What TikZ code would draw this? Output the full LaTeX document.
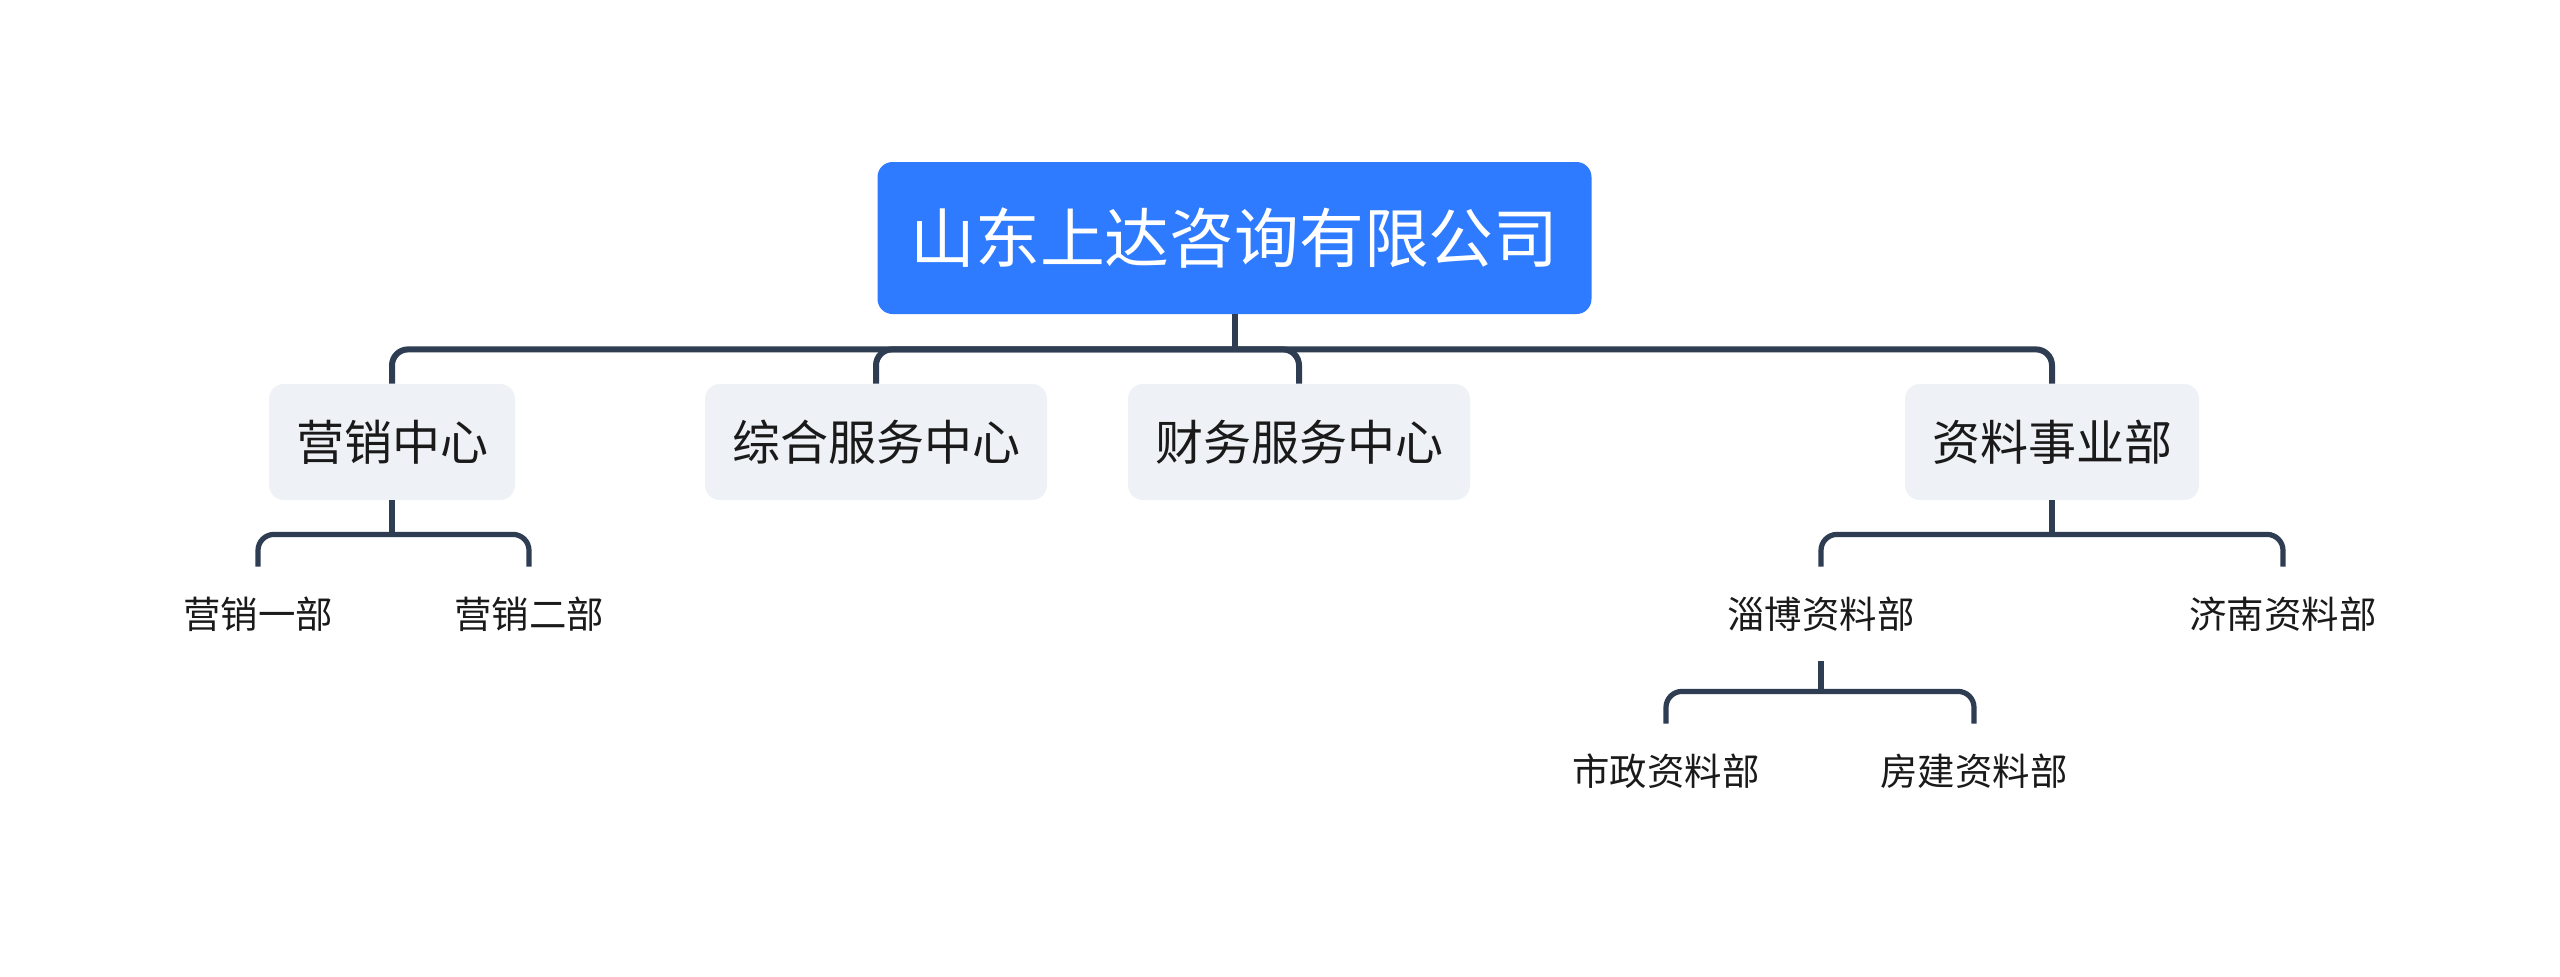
\documentclass[tikz,border=0pt]{standalone}
\usepackage{fontspec}
\setmainfont{Noto Sans CJK SC}
\definecolor{rootblue}{HTML}{2F7BFF}
\definecolor{boxgray}{HTML}{EEF1F5}
\definecolor{linecol}{HTML}{2E3D52}
\definecolor{txt}{HTML}{1A1A1A}
\tikzset{
  rootbox/.style={fill=rootblue, rounded corners=7.5pt, text=white, inner xsep=16.5pt, minimum height=76pt, font=\fontsize{32.4pt}{36pt}\selectfont},
  midbox/.style={fill=boxgray, rounded corners=7.5pt, text=txt, inner xsep=13.5pt, minimum height=58pt, font=\fontsize{24pt}{28pt}\selectfont},
  leaf/.style={text=txt, inner xsep=4pt, minimum height=47pt, font=\fontsize{18.7pt}{22pt}\selectfont},
  conn/.style={draw=linecol, line width=3pt, rounded corners=8pt},
  connsmall/.style={draw=linecol, line width=2.6pt, rounded corners=8pt}
}
\begin{document}
\begin{tikzpicture}[x=0.5pt, y=-0.5pt]
\useasboundingbox[fill=white] (0,0) rectangle (2560,976);
% nodes
\node[rootbox] (root) at (1234.5,238) {山东上达咨询有限公司};
\node[midbox] (yx) at (392,442) {营销中心};
\node[midbox] (zh) at (876,442) {综合服务中心};
\node[midbox] (cw) at (1299,442) {财务服务中心};
\node[midbox] (zl) at (2052,442) {资料事业部};
\node[leaf] (yx1) at (258,614) {营销一部};
\node[leaf] (yx2) at (529,614) {营销二部};
\node[leaf] (zb) at (1821,614) {淄博资料部};
\node[leaf] (jn) at (2283,614) {济南资料部};
\node[leaf] (sz) at (1666,771) {市政资料部};
\node[leaf] (fj) at (1974,771) {房建资料部};
% junctions
\path (root.south) ++(0,35) coordinate (rb);
\path (yx.south) ++(0,34) coordinate (yb);
\path (zl.south) ++(0,34) coordinate (zlb);
\path (zb.south) ++(0,30) coordinate (zbb);
% connectors
\draw[conn] (root.south) -- (rb);
\foreach \c in {yx,zh,cw,zl} \draw[conn] (rb) -| (\c.north);
\draw[connsmall] (yx.south) -- (yb);
\foreach \c in {yx1,yx2} \draw[connsmall] (yb) -| (\c.north);
\draw[connsmall] (zl.south) -- (zlb);
\foreach \c in {zb,jn} \draw[connsmall] (zlb) -| (\c.north);
\draw[connsmall] (zb.south) -- (zbb);
\foreach \c in {sz,fj} \draw[connsmall] (zbb) -| (\c.north);
\end{tikzpicture}
\end{document}
